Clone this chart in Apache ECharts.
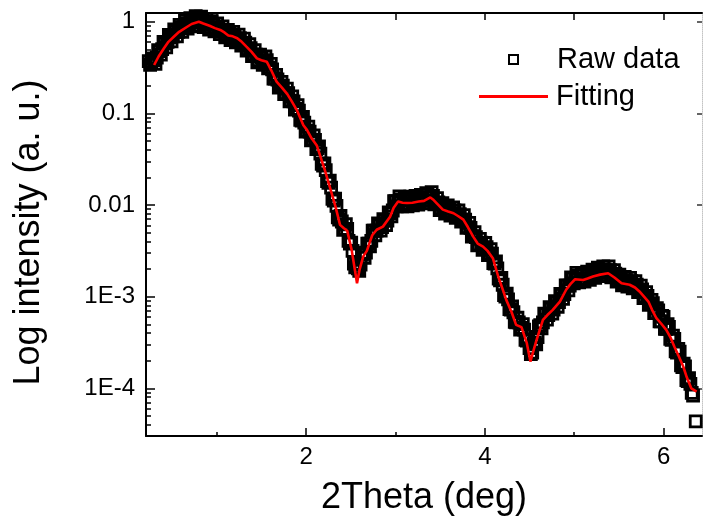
<!DOCTYPE html>
<html>
<head>
<meta charset="utf-8">
<script src="https://cdn.jsdelivr.net/npm/echarts@6/dist/echarts.min.js"></script>
<style>
  html, body { margin: 0; padding: 0; background: #fff; }
  #chart { width: 703px; height: 525px; }
</style>
</head>
<body>
<div id="chart"></div>
<script>
// Measured reflectivity: [2Theta (deg), intensity (a. u.)]
const rawData = [
  [0.24,0.372],[0.255,0.339],[0.27,0.355],[0.285,0.398],[0.30,0.380],[0.315,0.347],[0.33,0.407],[0.345,0.490],
  [0.36,0.479],[0.375,0.437],[0.39,0.501],[0.405,0.603],[0.42,0.575],[0.435,0.525],[0.45,0.603],[0.465,0.716],
  [0.48,0.676],[0.495,0.610],[0.51,0.692],[0.525,0.822],[0.54,0.776],[0.555,0.692],[0.57,0.776],[0.585,0.923],
  [0.60,0.871],[0.615,0.776],[0.63,0.871],[0.645,1.023],[0.66,0.955],[0.675,0.841],[0.69,0.933],[0.705,1.096],
  [0.72,1.023],[0.735,0.891],[0.75,0.977],[0.765,1.148],[0.78,1.072],[0.795,0.912],[0.81,1.000],[0.825,1.135],
  [0.84,1.023],[0.855,0.871],[0.87,0.933],[0.885,1.072],[0.90,0.977],[0.915,0.822],[0.93,0.871],[0.945,1.012],
  [0.96,0.933],[0.975,0.785],[0.99,0.832],[1.005,0.955],[1.02,0.871],[1.035,0.733],[1.05,0.776],[1.065,0.891],
  [1.08,0.813],[1.095,0.676],[1.11,0.708],[1.125,0.813],[1.14,0.741],[1.155,0.631],[1.17,0.676],[1.185,0.776],
  [1.20,0.708],[1.215,0.596],[1.23,0.631],[1.245,0.724],[1.26,0.661],[1.275,0.550],[1.29,0.575],[1.305,0.653],
  [1.32,0.589],[1.335,0.484],[1.35,0.501],[1.365,0.569],[1.38,0.513],[1.395,0.422],[1.41,0.437],[1.425,0.490],
  [1.44,0.437],[1.455,0.359],[1.47,0.380],[1.485,0.437],[1.50,0.407],[1.515,0.339],[1.53,0.363],[1.545,0.417],
  [1.56,0.380],[1.575,0.309],[1.59,0.316],[1.605,0.347],[1.62,0.302],[1.635,0.240],[1.65,0.240],[1.665,0.263],
  [1.68,0.234],[1.695,0.191],[1.71,0.195],[1.725,0.221],[1.74,0.200],[1.755,0.162],[1.77,0.166],[1.785,0.186],
  [1.80,0.166],[1.815,0.135],[1.83,0.138],[1.845,0.153],[1.86,0.135],[1.875,0.110],[1.89,0.112],[1.905,0.123],
  [1.92,0.107],[1.935,0.0851],[1.95,0.0832],[1.965,0.0912],[1.98,0.0794],[1.995,0.0631],[2.01,0.0646],[2.025,0.0716],
  [2.04,0.0631],[2.055,0.0507],[2.07,0.0513],[2.085,0.0575],[2.10,0.0513],[2.115,0.0407],[2.13,0.0417],[2.145,0.0437],
  [2.16,0.0363],[2.175,0.0282],[2.19,0.0269],[2.205,0.0285],[2.22,0.0240],[2.235,0.0182],[2.25,0.0174],[2.265,0.0184],
  [2.28,0.0155],[2.295,0.0117],[2.31,0.0112],[2.325,0.0117],[2.34,9.77e-3],[2.355,7.33e-3],[2.37,6.92e-3],[2.385,7.59e-3],
  [2.40,6.61e-3],[2.415,5.37e-3],[2.43,5.50e-3],[2.445,6.17e-3],[2.46,5.50e-3],[2.475,4.07e-3],[2.49,3.80e-3],[2.505,3.89e-3],
  [2.52,3.16e-3],[2.535,2.29e-3],[2.55,2.09e-3],[2.565,2.24e-3],[2.58,2.04e-3],[2.595,1.91e-3],[2.61,2.24e-3],[2.625,2.88e-3],
  [2.64,2.95e-3],[2.655,2.66e-3],[2.67,3.02e-3],[2.685,3.80e-3],[2.70,3.80e-3],[2.715,3.55e-3],[2.73,4.07e-3],[2.745,5.25e-3],
  [2.76,5.25e-3],[2.775,4.68e-3],[2.79,5.25e-3],[2.805,6.31e-3],[2.82,6.03e-3],[2.835,5.25e-3],[2.85,5.75e-3],[2.865,7.00e-3],
  [2.88,6.76e-3],[2.895,6.03e-3],[2.91,6.76e-3],[2.925,8.32e-3],[2.94,8.13e-3],[2.955,7.50e-3],[2.97,8.71e-3],[2.985,0.0110],
  [3.00,0.0110],[3.015,9.66e-3],[3.03,0.0107],[3.045,0.0124],[3.06,0.0115],[3.075,9.66e-3],[3.09,0.0102],[3.105,0.0122],
  [3.12,0.0112],[3.135,9.66e-3],[3.15,0.0105],[3.165,0.0123],[3.18,0.0115],[3.195,9.89e-3],[3.21,0.0107],[3.225,0.0126],
  [3.24,0.0117],[3.255,0.0101],[3.27,0.0110],[3.285,0.0129],[3.30,0.0120],[3.315,0.0104],[3.33,0.0112],[3.345,0.0135],
  [3.36,0.0129],[3.375,0.0111],[3.39,0.0120],[3.405,0.0138],[3.42,0.0126],[3.435,0.0102],[3.45,0.0105],[3.465,0.0119],
  [3.48,0.0107],[3.495,8.81e-3],[3.51,9.12e-3],[3.525,0.0105],[3.54,9.55e-3],[3.555,8.04e-3],[3.57,8.51e-3],[3.585,9.89e-3],
  [3.60,9.12e-3],[3.615,7.67e-3],[3.63,8.13e-3],[3.645,9.44e-3],[3.66,8.71e-3],[3.675,7.24e-3],[3.69,7.59e-3],[3.705,8.71e-3],
  [3.72,7.94e-3],[3.735,6.61e-3],[3.75,6.92e-3],[3.765,7.76e-3],[3.78,6.92e-3],[3.795,5.62e-3],[3.81,5.75e-3],[3.825,6.38e-3],
  [3.84,5.62e-3],[3.855,4.52e-3],[3.87,4.57e-3],[3.885,5.07e-3],[3.90,4.47e-3],[3.915,3.63e-3],[3.93,3.72e-3],[3.945,4.27e-3],
  [3.96,3.89e-3],[3.975,3.24e-3],[3.99,3.39e-3],[4.005,3.85e-3],[4.02,3.47e-3],[4.035,2.85e-3],[4.05,2.95e-3],[4.065,3.31e-3],
  [4.08,2.95e-3],[4.095,2.32e-3],[4.11,2.29e-3],[4.125,2.43e-3],[4.14,2.04e-3],[4.155,1.57e-3],[4.17,1.51e-3],[4.185,1.60e-3],
  [4.20,1.35e-3],[4.215,1.04e-3],[4.23,1.00e-3],[4.245,1.08e-3],[4.26,9.33e-4],[4.275,7.33e-4],[4.29,7.24e-4],[4.305,7.85e-4],
  [4.32,6.76e-4],[4.335,5.31e-4],[4.35,5.25e-4],[4.365,5.89e-4],[4.38,5.25e-4],[4.395,4.37e-4],[4.41,4.57e-4],[4.425,5.01e-4],
  [4.44,4.37e-4],[4.455,3.39e-4],[4.47,3.31e-4],[4.485,3.39e-4],[4.50,2.75e-4],[4.515,2.37e-4],[4.53,2.45e-4],[4.545,3.05e-4],
  [4.56,3.16e-4],[4.575,3.02e-4],[4.59,3.63e-4],[4.605,4.73e-4],[4.62,4.90e-4],[4.635,4.52e-4],[4.65,5.25e-4],[4.665,6.53e-4],
  [4.68,6.46e-4],[4.695,5.62e-4],[4.71,6.31e-4],[4.725,7.67e-4],[4.74,7.41e-4],[4.755,6.53e-4],[4.77,7.24e-4],[4.785,8.91e-4],
  [4.80,8.71e-4],[4.815,7.76e-4],[4.83,8.71e-4],[4.845,1.07e-3],[4.86,1.05e-3],[4.875,9.44e-4],[4.89,1.07e-3],[4.905,1.33e-3],
  [4.92,1.32e-3],[4.935,1.17e-3],[4.95,1.32e-3],[4.965,1.62e-3],[4.98,1.58e-3],[4.995,1.40e-3],[5.01,1.55e-3],[5.025,1.82e-3],
  [5.04,1.70e-3],[5.055,1.43e-3],[5.07,1.51e-3],[5.085,1.80e-3],[5.10,1.70e-3],[5.115,1.46e-3],[5.13,1.58e-3],[5.145,1.88e-3],
  [5.16,1.78e-3],[5.175,1.53e-3],[5.19,1.66e-3],[5.205,1.97e-3],[5.22,1.86e-3],[5.235,1.60e-3],[5.25,1.74e-3],[5.265,2.07e-3],
  [5.28,1.95e-3],[5.295,1.68e-3],[5.31,1.82e-3],[5.325,2.14e-3],[5.34,2.00e-3],[5.355,1.72e-3],[5.37,1.86e-3],[5.385,2.14e-3],
  [5.40,1.95e-3],[5.415,1.62e-3],[5.43,1.70e-3],[5.445,1.95e-3],[5.46,1.78e-3],[5.475,1.46e-3],[5.49,1.51e-3],[5.505,1.74e-3],
  [5.52,1.58e-3],[5.535,1.33e-3],[5.55,1.41e-3],[5.565,1.64e-3],[5.58,1.51e-3],[5.595,1.29e-3],[5.61,1.38e-3],[5.625,1.60e-3],
  [5.64,1.48e-3],[5.655,1.23e-3],[5.67,1.29e-3],[5.685,1.48e-3],[5.70,1.35e-3],[5.715,1.12e-3],[5.73,1.17e-3],[5.745,1.32e-3],
  [5.76,1.20e-3],[5.775,9.66e-4],[5.79,1.00e-3],[5.805,1.12e-3],[5.82,1.02e-3],[5.835,8.13e-4],[5.85,8.32e-4],[5.865,9.23e-4],
  [5.88,8.51e-4],[5.895,6.61e-4],[5.91,6.61e-4],[5.925,7.50e-4],[5.94,7.08e-4],[5.955,5.37e-4],[5.97,5.37e-4],[5.985,6.17e-4],
  [6.00,6.03e-4],[6.015,4.47e-4],[6.03,4.47e-4],[6.045,5.01e-4],[6.06,4.68e-4],[6.075,3.47e-4],[6.09,3.39e-4],[6.105,3.76e-4],
  [6.12,3.47e-4],[6.135,2.54e-4],[6.15,2.45e-4],[6.165,2.69e-4],[6.18,2.51e-4],[6.195,1.78e-4],[6.21,1.70e-4],[6.225,1.86e-4],
  [6.24,1.74e-4],[6.255,1.23e-4],[6.27,1.20e-4],[6.285,1.29e-4],[6.30,1.12e-4],[6.315,8.91e-5],[6.33,8.32e-5],[6.36,4.37e-5]
];

// Fitted reflectivity curve: [2Theta (deg), intensity (a. u.)]
const fitData = [
  [0.30,0.337],[0.35,0.417],[0.41,0.513],[0.46,0.603],[0.52,0.685],[0.58,0.776],[0.67,0.881],[0.72,0.944],
  [0.80,1.0],[0.85,0.955],[0.92,0.902],[0.98,0.851],[1.04,0.813],[1.09,0.759],[1.13,0.708],[1.18,0.692],
  [1.23,0.661],[1.28,0.603],[1.33,0.537],[1.39,0.468],[1.45,0.398],[1.50,0.380],[1.56,0.366],[1.61,0.295],
  [1.67,0.222],[1.73,0.191],[1.79,0.162],[1.84,0.135],[1.90,0.107],[1.97,0.0741],[2.01,0.0661],[2.06,0.0537],
  [2.12,0.0447],[2.16,0.0339],[2.21,0.0240],[2.27,0.0152],[2.33,9.55e-3],[2.38,6.07e-3],[2.42,5.62e-3],[2.46,5.25e-3],
  [2.51,3.24e-3],[2.57,1.40e-3],[2.60,2.0e-3],[2.64,2.75e-3],[2.68,3.16e-3],[2.74,4.68e-3],[2.79,5.37e-3],[2.86,5.81e-3],
  [2.94,7.46e-3],[2.98,9.33e-3],[3.03,0.0109],[3.08,0.0106],[3.13,0.0105],[3.19,0.0106],[3.26,0.0109],[3.32,0.0111],
  [3.39,0.0121],[3.42,0.0115],[3.46,0.0105],[3.53,8.91e-3],[3.59,8.51e-3],[3.65,8.13e-3],[3.70,7.59e-3],[3.76,6.92e-3],
  [3.81,5.75e-3],[3.87,4.52e-3],[3.92,3.80e-3],[3.98,3.52e-3],[4.03,3.16e-3],[4.09,2.63e-3],[4.15,1.66e-3],[4.20,1.20e-3],
  [4.24,9.23e-4],[4.30,6.76e-4],[4.35,4.93e-4],[4.41,4.65e-4],[4.47,3.11e-4],[4.51,1.96e-4],[4.55,2.69e-4],[4.58,3.39e-4],
  [4.65,5.58e-4],[4.70,6.31e-4],[4.76,7.18e-4],[4.84,8.85e-4],[4.91,1.19e-3],[4.96,1.38e-3],[5.01,1.55e-3],[5.10,1.52e-3],
  [5.15,1.58e-3],[5.21,1.66e-3],[5.29,1.74e-3],[5.38,1.80e-3],[5.45,1.62e-3],[5.53,1.40e-3],[5.62,1.35e-3],[5.68,1.26e-3],
  [5.73,1.14e-3],[5.83,8.85e-4],[5.87,7.24e-4],[5.92,5.82e-4],[5.97,5.13e-4],[6.03,4.35e-4],[6.08,3.55e-4],[6.12,2.86e-4],
  [6.17,2.24e-4],[6.22,1.73e-4],[6.26,1.32e-4],[6.31,1.00e-4],[6.37,9.23e-5]
];

// Axis ticks and labels
const xMajorTicks = [2, 4, 6];
const xMinorTicks = [1, 3, 5];
const xTopTicks = [1, 2, 3, 4, 5, 6];
const yDecades = [1e-4, 1e-3, 1e-2, 1e-1, 1];
const yDecadeLabels = ['1E-4', '1E-3', '0.01', '0.1', '1'];
const yMinorSteps = [2, 3, 4, 5, 6, 7, 8, 9];

const X_MIN = 0.209, X_MAX = 6.43;
const Y_MIN = 3.02e-5, Y_MAX = 1.244;

const yMinorTicks = [];
[1e-5].concat(yDecades).forEach(d => yMinorSteps.forEach(m => yMinorTicks.push(+(m * d).toPrecision(3))));

const FONT = "'Liberation Sans', Arial, Helvetica, sans-serif";

function yLabel(v) {
  for (let i = 0; i < yDecades.length; i++) {
    if (Math.abs(Math.log10(v) - Math.log10(yDecades[i])) < 1e-6) return yDecadeLabels[i];
  }
  return '';
}

const chart = echarts.init(document.getElementById('chart'), null, { renderer: 'canvas' });

const blackLine = { show: true, lineStyle: { color: '#000', width: 2 } };

chart.setOption({
  animation: false,
  backgroundColor: '#fff',
  grid: { left: 146, top: 13, width: 556, height: 423, containLabel: false },
  legend: [
    {
      data: ['Raw data'],
      left: 503, top: 40,
      itemWidth: 9, itemHeight: 9,
      selectedMode: false,
      itemStyle: { borderWidth: 2 },
      textStyle: { fontFamily: FONT, fontSize: 29, color: '#000', padding: [0, 0, 0, 34] }
    },
    {
      data: [{ name: 'Fitting', icon: 'rect' }],
      left: 474, top: 77,
      itemWidth: 69, itemHeight: 3,
      selectedMode: false,
      textStyle: { fontFamily: FONT, fontSize: 29, color: '#000', padding: [0, 0, 0, 3] }
    }
  ],
  xAxis: [
    {
      type: 'value', position: 'bottom', min: X_MIN, max: X_MAX,
      axisLine: blackLine,
      axisTick: { show: true, inside: true, length: 8, customValues: xMajorTicks, lineStyle: { color: '#000', width: 1.5 } },
      axisLabel: { customValues: xMajorTicks, fontFamily: FONT, fontSize: 24, color: '#000', margin: 9 },
      splitLine: { show: false },
      name: '2Theta (deg)', nameLocation: 'middle', nameGap: 44,
      nameTextStyle: { fontFamily: FONT, fontSize: 36, color: '#000' }
    },
    {
      type: 'value', position: 'bottom', min: X_MIN, max: X_MAX,
      axisLine: { show: false },
      axisTick: { show: true, inside: true, length: 4, customValues: xMinorTicks, lineStyle: { color: '#000', width: 1.5 } },
      axisLabel: { show: false },
      splitLine: { show: false }
    },
    {
      type: 'value', position: 'top', min: X_MIN, max: X_MAX,
      axisLine: blackLine,
      axisTick: { show: true, inside: true, length: 7, customValues: xTopTicks, lineStyle: { color: '#000', width: 1.5 } },
      axisLabel: { show: false },
      splitLine: { show: false }
    }
  ],
  yAxis: [
    {
      type: 'log', logBase: 10, position: 'left', min: Y_MIN, max: Y_MAX,
      axisLine: blackLine,
      axisTick: { show: true, inside: true, length: 9, customValues: yDecades, lineStyle: { color: '#000', width: 1.5 } },
      axisLabel: { customValues: yDecades, formatter: yLabel, fontFamily: FONT, fontSize: 24, color: '#000', margin: 11 },
      splitLine: { show: false },
      name: 'Log intensity (a. u.)', nameLocation: 'middle', nameGap: 99, nameRotate: 90,
      nameTextStyle: { fontFamily: FONT, fontSize: 36, color: '#000', padding: [0, 16, 0, 0] }
    },
    {
      type: 'log', logBase: 10, position: 'left', min: Y_MIN, max: Y_MAX,
      axisLine: { show: false },
      axisTick: { show: true, inside: true, length: 5, customValues: yMinorTicks, lineStyle: { color: '#000', width: 1.5 } },
      axisLabel: { show: false },
      splitLine: { show: false }
    },
    {
      type: 'log', logBase: 10, position: 'right', min: Y_MIN, max: Y_MAX,
      axisLine: { show: true, lineStyle: { color: '#c4c4c4', width: 1, type: 'dotted' } },
      axisTick: { show: true, inside: true, length: 5, customValues: yDecades, lineStyle: { color: '#333', width: 1.5 } },
      axisLabel: { show: false },
      splitLine: { show: false }
    }
  ],
  series: [
    {
      name: 'Raw data', type: 'scatter', xAxisIndex: 0, yAxisIndex: 0,
      data: rawData,
      symbol: 'rect', symbolSize: 11,
      large: false,
      itemStyle: { color: 'rgba(255,255,255,0)', borderColor: '#000', borderWidth: 2.8, opacity: 1 },
      emphasis: { disabled: true },
      z: 2
    },
    {
      name: 'Fitting', type: 'line', xAxisIndex: 0, yAxisIndex: 0,
      data: fitData,
      symbol: 'none', smooth: false,
      lineStyle: { color: '#ff0000', width: 2.6 },
      itemStyle: { color: '#ff0000' },
      emphasis: { disabled: true },
      z: 3
    }
  ]
});
</script>
</body>
</html>
